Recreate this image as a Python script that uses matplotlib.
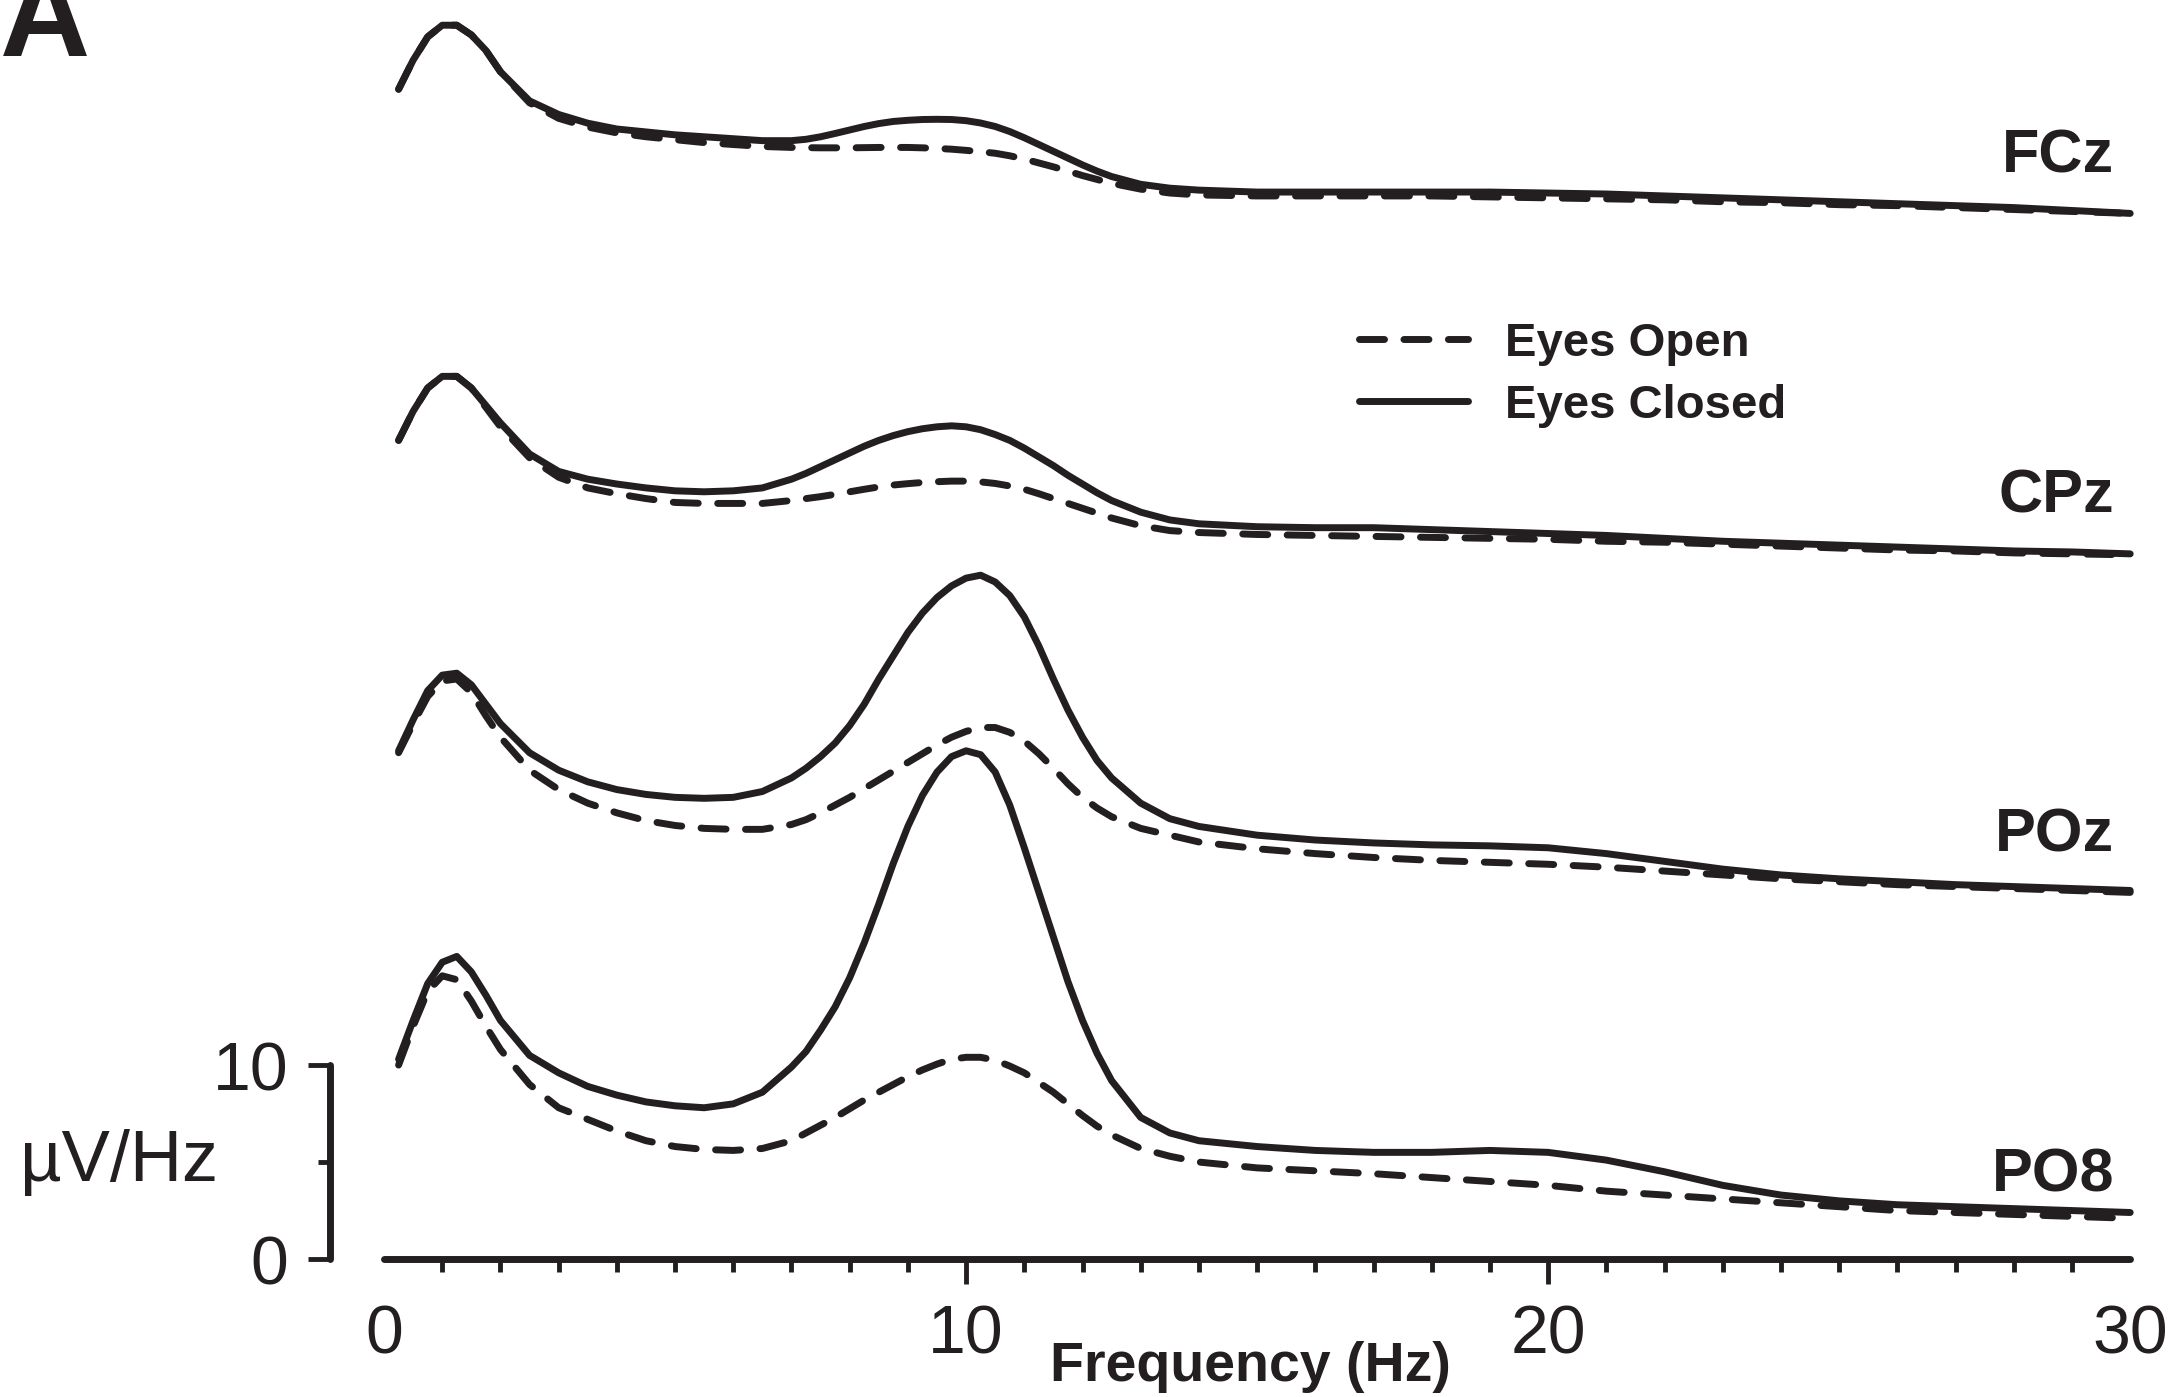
import matplotlib.pyplot as plt
import numpy as np
from matplotlib.ticker import FixedLocator
from matplotlib.lines import Line2D

plt.rcParams['font.family'] = ['Liberation Sans', 'DejaVu Sans']
INK = '#231f20'

# ── Spectra (uV/Hz) ──────────────────────────────────────────────────────────
FREQ = [0.25, 0.5, 0.75, 1.0, 1.25, 1.5, 1.75, 2.0,
        2.5, 3.0, 3.5, 4.0, 4.5, 5.0, 5.5, 6.0, 6.5, 7.0,
        7.25, 7.5, 7.75, 8.0, 8.25, 8.5, 8.75, 9.0, 9.25, 9.5, 9.75,
        10.0, 10.25, 10.5, 10.75, 11.0, 11.25, 11.5, 11.75, 12.0, 12.25, 12.5,
        13.0, 13.5, 14.0,
        15, 16, 17, 18, 19, 20, 21, 22, 23, 24, 25, 26, 27, 28, 29, 30]

CHANNELS = ['FCz', 'CPz', 'POz', 'PO8']
OFFSETS = [52.5, 35.0, 17.5, 0.0]

fcz_closed = [7.8, 9.3, 10.5, 11.1, 11.1, 10.6, 9.8, 8.7,
              7.2, 6.5, 6.05, 5.75, 5.6, 5.45, 5.35, 5.25, 5.15, 5.15,
              5.22, 5.35, 5.52, 5.7, 5.88, 6.03, 6.14, 6.2, 6.24, 6.25, 6.24,
              6.18, 6.06, 5.88, 5.62, 5.3, 4.95, 4.6, 4.25, 3.9, 3.58, 3.3,
              2.9, 2.7, 2.6,
              2.5, 2.5, 2.5, 2.5, 2.5, 2.45, 2.4, 2.3, 2.2, 2.1, 2.0, 1.9, 1.8, 1.7, 1.55, 1.4]
fcz_open = [7.8, 9.3, 10.5, 11.1, 11.1, 10.6, 9.8, 8.7,
            7.1, 6.3, 5.85, 5.55, 5.35, 5.2, 5.05, 4.95, 4.85, 4.8,
            4.79, 4.78, 4.78, 4.78, 4.79, 4.8, 4.8, 4.8, 4.78, 4.75, 4.71,
            4.65, 4.58, 4.5, 4.37, 4.2, 4.0, 3.8, 3.58, 3.35, 3.15, 2.95,
            2.65, 2.45, 2.35,
            2.3, 2.3, 2.3, 2.3, 2.25, 2.2, 2.15, 2.1, 2.0, 1.95, 1.85, 1.8, 1.7, 1.6, 1.5, 1.4]

cpz_closed = [7.2, 8.7, 9.9, 10.5, 10.5, 9.9, 9.0, 8.1,
              6.5, 5.6, 5.2, 4.95, 4.75, 4.6, 4.55, 4.6, 4.75, 5.2,
              5.5, 5.85, 6.2, 6.55, 6.9, 7.2, 7.45, 7.65, 7.8, 7.9, 7.95,
              7.9, 7.75, 7.5, 7.2, 6.8, 6.35, 5.9, 5.4, 4.95, 4.5, 4.1,
              3.5, 3.1, 2.9,
              2.75, 2.7, 2.7, 2.6, 2.5, 2.4, 2.3, 2.15, 2.0, 1.9, 1.8, 1.7, 1.6, 1.5, 1.45, 1.35]
cpz_open = [7.2, 8.7, 9.9, 10.5, 10.5, 9.9, 8.9, 7.9,
            6.3, 5.3, 4.75, 4.45, 4.2, 4.0, 3.95, 3.95, 3.95, 4.1,
            4.2, 4.3, 4.42, 4.55, 4.68, 4.8, 4.9, 4.97, 5.03, 5.07, 5.1,
            5.1, 5.06, 4.98, 4.85, 4.68, 4.45, 4.2, 3.95, 3.7, 3.45, 3.2,
            2.8, 2.55, 2.45,
            2.35, 2.3, 2.25, 2.2, 2.15, 2.1, 2.0, 1.95, 1.85, 1.75, 1.65, 1.55, 1.5, 1.4, 1.35, 1.3]

poz_closed = [8.7, 10.3, 11.8, 12.6, 12.7, 12.1, 11.1, 10.1,
              8.6, 7.7, 7.1, 6.7, 6.45, 6.3, 6.25, 6.3, 6.6, 7.3,
              7.8, 8.4, 9.1, 10.0, 11.1, 12.4, 13.6, 14.8, 15.8, 16.6, 17.2,
              17.6, 17.75, 17.4, 16.7, 15.6, 14.1, 12.4, 10.8, 9.4, 8.2, 7.3,
              6.0, 5.2, 4.8,
              4.35, 4.1, 3.95, 3.85, 3.8, 3.7, 3.4, 3.0, 2.6, 2.3, 2.1, 1.95, 1.8, 1.7, 1.6, 1.5]
poz_open = [8.6, 10.1, 11.5, 12.3, 12.4, 11.7, 10.5, 9.4,
            7.7, 6.7, 6.0, 5.5, 5.1, 4.85, 4.7, 4.65, 4.65, 4.9,
            5.15, 5.5, 5.9, 6.3, 6.75, 7.2, 7.65, 8.1, 8.55, 9.0, 9.4,
            9.7, 9.9, 9.9, 9.65, 9.2, 8.55, 7.8, 7.0, 6.3, 5.75, 5.3,
            4.7, 4.35, 4.0,
            3.65, 3.4, 3.2, 3.05, 2.95, 2.85, 2.7, 2.5, 2.3, 2.1, 1.95, 1.8, 1.7, 1.6, 1.5, 1.4]

po8_closed = [10.3, 12.3, 14.2, 15.3, 15.6, 14.8, 13.6, 12.3,
              10.5, 9.6, 8.9, 8.45, 8.1, 7.9, 7.8, 8.0, 8.6, 9.9,
              10.7, 11.8, 13.0, 14.5, 16.3, 18.3, 20.4, 22.3, 23.9, 25.1, 25.9,
              26.2, 26.0, 25.1, 23.4, 21.2, 18.9, 16.6, 14.3, 12.3, 10.6, 9.2,
              7.3, 6.5, 6.1,
              5.8, 5.6, 5.5, 5.5, 5.6, 5.5, 5.1, 4.5, 3.8, 3.3, 3.0, 2.8, 2.7, 2.6, 2.5, 2.4]
po8_open = [10.0, 12.0, 13.8, 14.6, 14.4, 13.3, 12.0, 10.8,
            9.0, 7.8, 7.2, 6.6, 6.1, 5.8, 5.65, 5.6, 5.7, 6.1,
            6.5, 6.9, 7.3, 7.75, 8.2, 8.6, 9.0, 9.4, 9.75, 10.05, 10.3,
            10.4, 10.4, 10.25, 9.95, 9.6, 9.1, 8.6, 8.0, 7.4, 6.85, 6.4,
            5.7, 5.3, 5.0,
            4.7, 4.55, 4.4, 4.2, 4.0, 3.8, 3.5, 3.3, 3.1, 2.9, 2.7, 2.5, 2.4, 2.3, 2.2, 2.1]

EYES_OPEN = [fcz_open, cpz_open, poz_open, po8_open]
EYES_CLOSED = [fcz_closed, cpz_closed, poz_closed, po8_closed]

# ── Figure ───────────────────────────────────────────────────────────────────
fig = plt.figure(figsize=(21.82, 13.97), dpi=100)
ax = fig.add_axes([0, 0, 1, 1])
ax.set_xlim(-6.598, 30.89)
ax.set_ylim(-7.11, 64.90)

freq = np.array(FREQ)
lw = 5.0
dash = (0, (3.6, 2.8))
for name, off, eo, ec in zip(CHANNELS, OFFSETS, EYES_OPEN, EYES_CLOSED):
    ax.plot(freq, np.array(eo) + off, color=INK, lw=lw,
            linestyle=dash, dash_capstyle='round', dash_joinstyle='round')
    ax.plot(freq, np.array(ec) + off, color=INK, lw=lw,
            solid_capstyle='round', solid_joinstyle='round')
    ax.text(29.72, off + 4.3, name, ha='right', va='center',
            fontsize=44, fontweight='bold', color=INK)

# x axis drawn at the PO8 baseline, scale bar on the left
for side in ['top', 'right']:
    ax.spines[side].set_visible(False)
ax.spines['bottom'].set_position(('data', 0))
ax.spines['bottom'].set_bounds(0, 30)
ax.spines['left'].set_position(('data', -0.93))
ax.spines['left'].set_bounds(0, 10)
for side in ['bottom', 'left']:
    ax.spines[side].set_linewidth(5)
    ax.spines[side].set_color(INK)
    ax.spines[side].set_capstyle('round')

ax.set_xticks([0, 10, 20, 30])
ax.xaxis.set_minor_locator(FixedLocator(range(1, 30)))
ax.tick_params(axis='x', which='major', direction='out', length=18, width=3.5,
               color=INK, labelsize=49, labelcolor=INK, pad=14)
ax.tick_params(axis='x', which='minor', direction='out', length=9, width=3.5, color=INK)
xt = ax.xaxis.get_major_ticks()
xt[0].tick1line.set_visible(False)
xt[-1].tick1line.set_visible(False)

ax.set_yticks([0, 10])
ax.set_yticks([5], minor=True)
ax.tick_params(axis='y', which='major', direction='out', length=16, width=3.5,
               color=INK, labelsize=49, labelcolor=INK, pad=14)
ax.tick_params(axis='y', which='minor', direction='out', length=9, width=3.5, color=INK)

ax.set_xlabel('Frequency (Hz)', fontsize=40, fontweight='bold', color=INK)
ax.xaxis.set_label_coords(14.88, -5.55, transform=ax.transData)
ax.xaxis.label.set_va('center')
ax.set_ylabel('\u00b5V/Hz', fontsize=52, color=INK, rotation=0)
ax.yaxis.set_label_coords(-4.55, 5.0, transform=ax.transData)
ax.yaxis.label.set_va('center')
ax.yaxis.label.set_ha('center')

handles = [Line2D([], [], color=INK, lw=lw, linestyle=dash, dash_capstyle='round'),
           Line2D([], [], color=INK, lw=lw, solid_capstyle='round')]
ax.legend(handles, ['Eyes Open', 'Eyes Closed'], loc='upper left',
          bbox_to_anchor=(1359 / 2182, 1 - 322 / 1397), bbox_transform=fig.transFigure,
          frameon=False, prop={'size': 34, 'weight': 'bold'}, labelcolor=INK,
          handlelength=2.3, handletextpad=0.8, labelspacing=0.38,
          borderpad=0, borderaxespad=0)

fig.text(0.0, 1 - 56 / 1397, 'A', ha='left', va='baseline',
         fontsize=90, fontweight='bold', color=INK)

fig.savefig('out.png', dpi=100, facecolor='white')
